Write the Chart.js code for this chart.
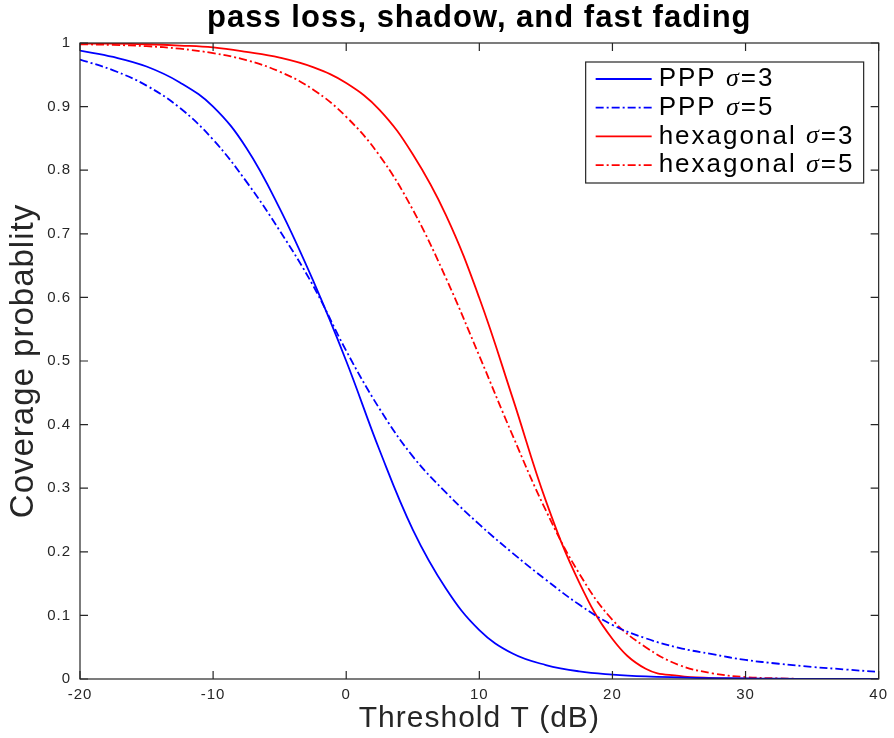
<!DOCTYPE html>
<html>
<head>
<meta charset="utf-8">
<title>pass loss, shadow, and fast fading</title>
<script src="https://cdn.jsdelivr.net/npm/chart.js@4.4.1/dist/chart.umd.min.js"></script>
<style>
  html, body { margin: 0; padding: 0; background: #fff; }
  #wrap { width: 894px; height: 738px; }
</style>
</head>
<body>
<div id="wrap"><canvas id="coverageChart" width="894" height="738"></canvas></div>
<script>
// threshold T in dB (x axis)
const thresholds = [-20, -17.5, -15, -12.5, -10, -7.5, -5, -2.5, 0, 2.5, 5, 7.5, 10,
  12.5, 15, 17.5, 20, 22.5, 25, 27.5, 30, 32.5, 35, 37.5, 40];

// coverage probability
const pppSigma3 = [0.988, 0.978, 0.963, 0.938, 0.90, 0.835, 0.74, 0.627, 0.50, 0.36, 0.235, 0.142, 0.077,
  0.040, 0.022, 0.012, 0.007, 0.004, 0.0025, 0.0015, 0.001, 0.0005, 0.0002, 0.0001, 0];
const pppSigma5 = [0.974, 0.957, 0.933, 0.898, 0.848, 0.782, 0.705, 0.619, 0.516, 0.425, 0.35, 0.293, 0.243,
  0.198, 0.156, 0.117, 0.085, 0.064, 0.049, 0.039, 0.03, 0.024, 0.019, 0.015, 0.011];
const hexSigma3 = [0.999, 0.999, 0.998, 0.996, 0.993, 0.986, 0.977, 0.962, 0.937, 0.895, 0.825, 0.729, 0.599,
  0.442, 0.28, 0.152, 0.063, 0.016, 0.005, 0.0015, 0.0005, 0, 0, 0, 0];
const hexSigma5 = [0.998, 0.997, 0.995, 0.991, 0.984, 0.973, 0.955, 0.927, 0.884, 0.823, 0.738, 0.63, 0.508,
  0.383, 0.265, 0.166, 0.093, 0.05, 0.022, 0.009, 0.003, 0.001, 0, 0, 0];

// legend text: [prefix, sigma value]
const seriesNames = [["PPP ", "3"], ["PPP ", "5"], ["hexagonal ", "3"], ["hexagonal ", "5"]];

const xTicks = [-20, -10, 0, 10, 20, 30, 40];
const yTicks = [0, 0.1, 0.2, 0.3, 0.4, 0.5, 0.6, 0.7, 0.8, 0.9, 1];

const axisColor = '#262626';
const sansFont = '"Liberation Sans", Arial, sans-serif';
const dashDot = [8, 3, 2, 3];

function toPoints(values) {
  return thresholds.map((t, i) => ({ x: t, y: values[i] }));
}

function makeSet(i, values, color, dash) {
  return {
    label: seriesNames[i][0] + 'σ=' + seriesNames[i][1],
    data: toPoints(values),
    borderColor: color,
    borderWidth: 1.8,
    borderDash: dash,
    pointRadius: 0,
    fill: false,
    tension: 0.4
  };
}

// the matlab fonts run wider than Liberation Sans, so add a bit of spacing
const spacingPlugin = {
  id: 'spacing',
  beforeDraw(chart) {
    chart.ctx.letterSpacing = '1px';
  }
};

// box around the plot with inward ticks, like matlab
const boxPlugin = {
  id: 'box',
  afterDatasetsDraw(chart) {
    const ctx = chart.ctx;
    const a = chart.chartArea;
    const xs = chart.scales.x, ys = chart.scales.y;
    const len = 8;
    ctx.save();
    ctx.strokeStyle = axisColor;
    ctx.lineWidth = 1.2;
    ctx.strokeRect(a.left, a.top, a.right - a.left, a.bottom - a.top);
    ctx.beginPath();
    xTicks.forEach(v => {
      const px = xs.getPixelForValue(v);
      ctx.moveTo(px, a.bottom); ctx.lineTo(px, a.bottom - len);
      ctx.moveTo(px, a.top); ctx.lineTo(px, a.top + len);
    });
    yTicks.forEach(v => {
      const py = ys.getPixelForValue(v);
      ctx.moveTo(a.left, py); ctx.lineTo(a.left + len, py);
      ctx.moveTo(a.right, py); ctx.lineTo(a.right - len, py);
    });
    ctx.stroke();
    ctx.restore();
  }
};

// legend box in the top right corner
const legendPlugin = {
  id: 'matlabLegend',
  afterDraw(chart) {
    const ctx = chart.ctx;
    const a = chart.chartArea;
    const sets = chart.data.datasets;
    const fontMain = '26px ' + sansFont;
    const fontSigma = 'italic 26px "Liberation Serif", "Times New Roman", serif';
    const rowH = 28.7;
    const boxW = 278, boxH = 121;
    const bx = a.right - 15 - boxW;
    const by = a.top + 19;
    ctx.save();
    ctx.letterSpacing = '2px';
    ctx.fillStyle = '#fff';
    ctx.fillRect(bx, by, boxW, boxH);
    ctx.strokeStyle = axisColor;
    ctx.lineWidth = 1.2;
    ctx.strokeRect(bx, by, boxW, boxH);
    sets.forEach((ds, i) => {
      const cy = by + 17 + i * rowH;
      ctx.beginPath();
      ctx.strokeStyle = ds.borderColor;
      ctx.lineWidth = 1.8;
      ctx.setLineDash(ds.borderDash || []);
      ctx.moveTo(bx + 10, cy);
      ctx.lineTo(bx + 66, cy);
      ctx.stroke();
      ctx.setLineDash([]);
      ctx.fillStyle = '#000';
      ctx.textBaseline = 'middle';
      let tx = bx + 73;
      ctx.font = fontMain;
      ctx.fillText(seriesNames[i][0], tx, cy);
      tx += ctx.measureText(seriesNames[i][0]).width;
      ctx.font = fontSigma;
      ctx.fillText('σ', tx, cy);
      tx += ctx.measureText('σ').width;
      ctx.font = fontMain;
      ctx.fillText('=' + seriesNames[i][1], tx, cy);
    });
    ctx.restore();
  }
};

const ctx = document.getElementById('coverageChart').getContext('2d');
new Chart(ctx, {
  type: 'line',
  data: {
    datasets: [
      makeSet(0, pppSigma3, '#0000ff', []),
      makeSet(1, pppSigma5, '#0000ff', dashDot),
      makeSet(2, hexSigma3, '#ff0000', []),
      makeSet(3, hexSigma5, '#ff0000', dashDot)
    ]
  },
  options: {
    responsive: false,
    animation: false,
    layout: { padding: { top: 0, right: 14, bottom: 0, left: 0 } },
    plugins: {
      legend: { display: false },
      tooltip: { enabled: false },
      title: {
        display: true,
        fullSize: false,
        text: 'pass loss, shadow, and fast fading',
        color: '#000',
        font: { family: sansFont, size: 31, weight: 'bold', lineHeight: 1.1 },
        padding: { top: 1, bottom: 7.9 }
      }
    },
    scales: {
      x: {
        type: 'linear',
        min: -20,
        max: 40,
        afterBuildTicks: s => { s.ticks = xTicks.map(v => ({ value: v })); },
        afterFit: s => { s.height = 59; },
        grid: { display: false, drawTicks: false },
        border: { display: false },
        ticks: {
          color: axisColor,
          padding: 7,
          maxRotation: 0,
          font: { family: sansFont, size: 15 }
        },
        title: {
          display: true,
          text: 'Threshold T (dB)',
          color: axisColor,
          font: { family: sansFont, size: 30 },
          padding: { top: 0, bottom: 1.5 }
        }
      },
      y: {
        min: 0,
        max: 1,
        afterBuildTicks: s => { s.ticks = yTicks.map(v => ({ value: v })); },
        afterFit: s => { s.width = 80; },
        grid: { display: false, drawTicks: false },
        border: { display: false },
        ticks: {
          color: axisColor,
          padding: 9,
          font: { family: sansFont, size: 15 },
          callback: v => String(Math.round(v * 10) / 10)
        },
        title: {
          display: true,
          text: 'Coverage probablity',
          color: axisColor,
          font: { family: sansFont, size: 33 },
          padding: { top: 4, bottom: 0 }
        }
      }
    }
  },
  plugins: [spacingPlugin, boxPlugin, legendPlugin]
});
</script>
</body>
</html>
